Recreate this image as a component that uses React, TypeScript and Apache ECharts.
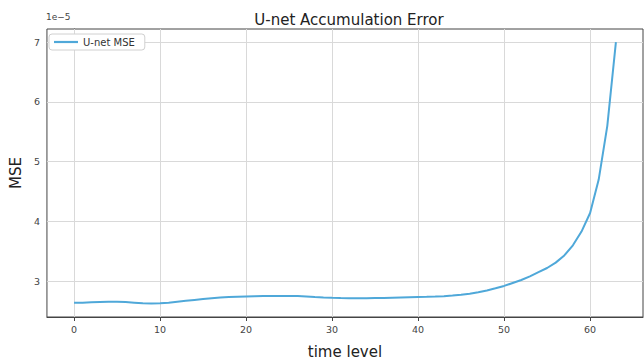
import React, { useEffect, useRef } from "react";
import * as echarts from "echarts";

// MSE values in units of 1e-5, one per time level 0..63
const timeLevels: number[] = Array.from({ length: 64 }, (_, i) => i);
const mseValues: number[] = [
  2.64, 2.64, 2.645, 2.65, 2.655, 2.657, 2.65, 2.64, 2.63, 2.625,
  2.63, 2.64, 2.655, 2.67, 2.685, 2.7, 2.715, 2.725, 2.735, 2.74,
  2.745, 2.748, 2.75, 2.752, 2.752, 2.752, 2.75, 2.745, 2.735, 2.728,
  2.722, 2.718, 2.715, 2.715, 2.715, 2.718, 2.72, 2.724, 2.728, 2.732,
  2.735, 2.738, 2.742, 2.748, 2.758, 2.772, 2.79, 2.815, 2.845, 2.88,
  2.92, 2.97, 3.02, 3.08, 3.15, 3.22, 3.31, 3.43, 3.6, 3.83,
  4.14, 4.7, 5.6, 7.0,
];
const xTicks: number[] = [0, 10, 20, 30, 40, 50, 60];
const yTicks: number[] = [3, 4, 5, 6, 7];

export default function App() {
  const ref = useRef<HTMLDivElement>(null);
  useEffect(() => {
    if (!ref.current) return;
    const chart = echarts.init(ref.current, null, { renderer: "svg", width: 644, height: 364 });
    const font = "DejaVu Sans";
    const gridLine = { color: "#d9d9d9", width: 1, type: "solid" as const };
    chart.setOption({
      animation: false,
      textStyle: { fontFamily: font },
      title: {
        text: "U-net Accumulation Error",
        left: 344,
        textAlign: "center",
        top: 7,
        textStyle: { fontFamily: font, fontSize: 15, fontWeight: "normal", color: "#222" },
      },
      legend: {
        left: 49,
        top: 34,
        z: 10,
        orient: "vertical",
        itemWidth: 24,
        itemHeight: 10,
        itemGap: 4,
        padding: [3, 10, 3, 5],
        borderColor: "#d0d0d0",
        borderWidth: 1,
        borderRadius: 3,
        backgroundColor: "#ffffff",
        textStyle: { fontFamily: font, fontSize: 10, color: "#333" },
        data: [{ name: "U-net MSE", icon: "path://M0,3.9 L24,3.9 L24,6.1 L0,6.1 Z" }],
      },
      grid: {
        left: 45,
        right: 1,
        top: 29,
        bottom: 38,
        show: true,
        borderColor: "#444",
        borderWidth: 1,
        containLabel: false,
      },
      graphic: [
        {
          type: "text",
          left: 46,
          top: 12,
          style: { text: "1e\u22125", fontFamily: font, fontSize: 9, fill: "#444" },
        },
      ],
      xAxis: {
        type: "value",
        min: -3.15,
        max: 66.15,
        name: "time level",
        nameLocation: "middle",
        nameGap: 27,
        nameTextStyle: { fontFamily: font, fontSize: 15, color: "#222" },
        axisLine: { show: true, lineStyle: { color: "#444" } },
        axisTick: { show: true, length: 4, lineStyle: { color: "#444" }, customValues: xTicks },
        axisLabel: { fontFamily: font, fontSize: 9.5, color: "#444", margin: 7, customValues: xTicks },
        splitLine: { show: false },
      },
      yAxis: {
        type: "value",
        min: 2.4,
        max: 7.22,
        name: "MSE",
        nameLocation: "middle",
        nameGap: 21,
        nameTextStyle: { fontFamily: font, fontSize: 15, color: "#222" },
        axisLine: { show: true, lineStyle: { color: "#444" } },
        axisTick: { show: true, length: 4, lineStyle: { color: "#444" }, customValues: yTicks },
        axisLabel: { fontFamily: font, fontSize: 9.5, color: "#444", margin: 7, customValues: yTicks },
        splitLine: { show: false },
      },
      series: [
        {
          name: "U-net MSE",
          type: "line",
          data: timeLevels.map((t, i) => [t, mseValues[i]]),
          symbol: "none",
          smooth: false,
          lineStyle: { color: "#4fa8d9", width: 2 },
          itemStyle: { color: "#4fa8d9" },
          z: 2,
          markLine: {
            silent: true,
            symbol: ["none", "none"],
            label: { show: false },
            lineStyle: gridLine,
            animation: false,
            z: 1,
            data: [
              ...xTicks.map((v) => ({ xAxis: v })),
              ...yTicks.map((v) => ({ yAxis: v })),
            ],
          },
        },
      ],
    });
    return () => chart.dispose();
  }, []);
  return (
    <div
      ref={ref}
      style={{ position: "fixed", left: 0, top: 0, width: 644, height: 364, background: "#fff" }}
    />
  );
}
